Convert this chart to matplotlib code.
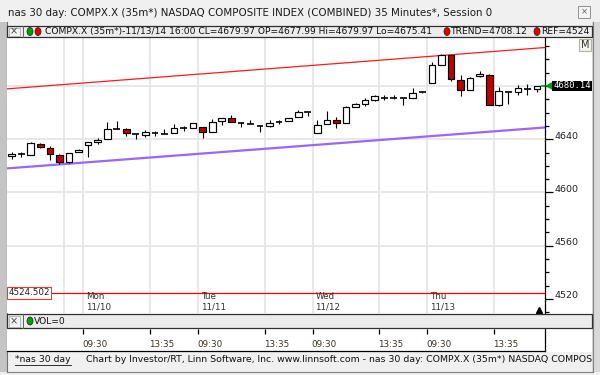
import numpy as np
import matplotlib
matplotlib.use("Agg")
import matplotlib.pyplot as plt
from matplotlib.patches import Rectangle, Ellipse, Polygon

# 35 minute bars, Fri afternoon .. Thu 11/13 close
opens = [4627.5, 4628.8, 4628.3, 4636.8, 4633.1, 4628.1, 4622.8, 4630.3, 4635.8, 4637.6,
         4640.2, 4647.7, 4647.9, 4643.8, 4643.2, 4644.7, 4644.2, 4645.1, 4648.2, 4648.5,
         4649.2, 4645.4, 4653.7, 4655.7, 4652.5, 4651.5, 4650.2, 4649.7, 4653.0, 4653.7,
         4656.8, 4660.5, 4645.1, 4651.5, 4654.7, 4652.2, 4664.3, 4666.8, 4669.8, 4670.8,
         4670.8, 4670.8, 4671.1, 4675.6, 4682.4, 4696.2, 4703.2, 4684.4, 4677.4, 4687.4,
         4688.7, 4666.0, 4675.6, 4675.3, 4677.9, 4677.99]
highs = [4630.1, 4630.3, 4637.6, 4637.0, 4634.6, 4628.9, 4629.8, 4632.5, 4638.3, 4641.1,
         4652.7, 4653.4, 4648.2, 4644.0, 4646.9, 4646.2, 4647.9, 4651.2, 4649.7, 4652.2,
         4649.5, 4655.2, 4656.3, 4658.5, 4652.7, 4654.5, 4650.4, 4654.2, 4654.7, 4656.2,
         4662.3, 4660.7, 4654.7, 4661.0, 4656.8, 4665.3, 4667.0, 4670.8, 4673.4, 4673.6,
         4673.6, 4671.0, 4678.6, 4675.8, 4698.0, 4704.3, 4703.5, 4688.7, 4687.0, 4691.2,
         4689.4, 4679.4, 4675.8, 4681.1, 4681.7, 4679.97]
lows = [4625.1, 4627.0, 4628.0, 4633.8, 4624.5, 4621.7, 4622.5, 4630.1, 4627.0, 4636.4,
        4640.0, 4647.5, 4642.6, 4640.2, 4641.9, 4642.6, 4644.0, 4645.0, 4646.6, 4648.2,
        4640.9, 4645.2, 4650.9, 4652.8, 4649.4, 4651.3, 4645.4, 4649.5, 4651.5, 4653.5,
        4656.4, 4657.2, 4645.0, 4651.3, 4648.5, 4652.0, 4664.0, 4664.8, 4668.5, 4669.8,
        4670.6, 4666.0, 4670.9, 4674.5, 4682.2, 4696.0, 4683.6, 4672.8, 4677.0, 4687.2,
        4665.8, 4664.8, 4666.6, 4673.6, 4673.6, 4675.41]
closes = [4629.1, 4628.8, 4637.1, 4634.1, 4628.8, 4623.0, 4629.6, 4632.3, 4637.6, 4639.8,
          4647.7, 4647.8, 4644.7, 4643.9, 4645.7, 4644.8, 4644.3, 4648.2, 4648.3, 4651.9,
          4645.7, 4653.0, 4656.0, 4653.0, 4652.6, 4651.6, 4650.3, 4652.2, 4653.1, 4656.0,
          4660.2, 4660.6, 4650.9, 4654.5, 4652.2, 4664.0, 4666.6, 4669.6, 4672.3, 4670.9,
          4670.9, 4670.9, 4675.1, 4675.7, 4695.5, 4703.5, 4685.4, 4677.4, 4686.4, 4688.9,
          4666.0, 4676.1, 4675.7, 4678.3, 4678.0, 4679.97]

trend_x = [-0.5, 55.85]
trend_hi = [4677.9, 4709.0]
trend_lo = [4618.1, 4648.9]
ref_level = 4524.502
last_price = 4680.14

grid_x = [5.5, 7.5, 14.5, 19.5, 26.5, 31.5, 38.5, 43.5, 50.5]
grid_y = [4560, 4600, 4640, 4680]
time_ticks = [7.5, 14.5, 19.5, 26.5, 31.5, 38.5, 43.5, 50.5]
time_labels = ["09:30", "13:35", "09:30", "13:35", "09:30", "13:35", "09:30", "13:35"]
day_ticks = [7.5, 19.5, 31.5, 43.5]
day_names = ["Mon", "Tue", "Wed", "Thu"]
day_dates = ["11/10", "11/11", "11/12", "11/13"]
price_labels = [4520, 4560, 4600, 4640]

W, H = 600, 375
plt.rcParams['font.family'] = ['DejaVu Sans']


def box(x0, y0, x1, y1):
    # pixel box (top-left origin) -> figure fraction rect
    return [x0 / W, 1 - y1 / H, (x1 - x0) / W, (y1 - y0) / H]


fig = plt.figure(figsize=(6, 3.75), dpi=100)
fig.patch.set_facecolor('#f0f0f0')

# background / window chrome
bg = fig.add_axes([0, 0, 1, 1])
bg.set_xlim(0, W)
bg.set_ylim(H, 0)
bg.axis('off')
bg.add_patch(Rectangle((0, 22), 7, 350, facecolor='#c4c4c4', edgecolor='none'))
bg.add_patch(Rectangle((592, 22), 8, 350, facecolor='#d8d8d8', edgecolor='none'))
bg.add_patch(Rectangle((7, 37), 585, 315, facecolor='white', edgecolor='none'))
bg.plot([6.5, 6.5], [22, 372], color='#707070', lw=0.8)
bg.plot([592.5, 592.5], [22, 372], color='#808080', lw=0.8)
bg.plot([6.5, 592.5], [371.5, 371.5], color='#808080', lw=0.8)

# main price panel
ax = fig.add_axes(box(7, 37, 545, 313))
ax.set_facecolor('white')
ax.set_xlim(-0.49, 55.84)
ax.set_ylim(4509.4, 4716.9)

for gx in grid_x:
    ax.axvline(gx, color='#e6e6e6', lw=1.3, zorder=0)
for gy in grid_y:
    ax.axhline(gy, color='#e6e6e6', lw=1.3, zorder=0)

ax.plot(trend_x, trend_hi, color='#ff1a1a', lw=0.9, zorder=1)
ax.plot(trend_x, trend_lo, color='#9966ff', lw=1.6, zorder=1)
ax.axhline(ref_level, color='#ff0000', lw=0.9, zorder=1)

o = np.array(opens)
hi = np.array(highs)
lo = np.array(lows)
c = np.array(closes)
idx = np.arange(len(c))
up = c >= o
ax.vlines(idx, lo, hi, color='black', lw=0.8, zorder=2)
body_lo = np.minimum(o, c)
body_h = np.abs(c - o)
solid = body_h >= 0.5
colors = np.where(up, 'white', '#c00000')
ax.bar(idx[solid], body_h[solid], bottom=body_lo[solid], width=0.7,
       color=colors[solid], edgecolor='black', linewidth=0.85, zorder=3)
ax.hlines((o[~solid] + c[~solid]) / 2, idx[~solid] - 0.35, idx[~solid] + 0.35,
          color='black', lw=1.2, zorder=3)

for s in ['left', 'top', 'bottom']:
    ax.spines[s].set_visible(False)
ax.spines['right'].set_linewidth(0.9)
ax.yaxis.tick_right()
ax.set_yticks(np.arange(4520, 4720, 40))
ax.set_yticks(np.arange(4510, 4720, 10), minor=True)
ax.tick_params(axis='y', which='major', length=6, width=0.9, labelright=False)
ax.tick_params(axis='y', which='minor', length=3, width=0.9)
ax.set_xticks([])

ytr = ax.get_yaxis_transform()
xtr = ax.get_xaxis_transform()
for v in price_labels:
    ax.text(1.017, v + 2.3, str(v), transform=ytr, fontsize=6.8, color='#222222',
            ha='left', va='center', clip_on=False)

for t, n, d in zip(day_ticks, day_names, day_dates):
    ax.text(t + 0.3, 0.058, n, transform=xtr, fontsize=6.3, color='#333333',
            ha='left', va='center')
    ax.text(t + 0.3, 0.021, d, transform=xtr, fontsize=6.3, color='#333333',
            ha='left', va='center')

ax.text(0.003, ref_level, '4524.502', transform=ytr, fontsize=6.3, color='#222222',
        ha='left', va='center', zorder=5,
        bbox=dict(boxstyle='square,pad=0.15', facecolor='white', edgecolor='#ff3030', lw=0.8))

ax.plot([55.2], [0.012], marker='^', ms=4, color='black', transform=xtr, clip_on=False)

# last price tag
ax.hlines(last_price, 55.4, 55.84, color='#00a000', lw=1.2)
ax.add_patch(Polygon([(1.0, last_price), (1.016, last_price + 3.5), (1.016, last_price - 3.5)],
                     closed=True, transform=ytr, facecolor='#00a000', edgecolor='none',
                     clip_on=False, zorder=6))
ax.add_patch(Rectangle((1.013, last_price - 3.5), 0.075, 7.0, transform=ytr,
                       facecolor='black', edgecolor='none', clip_on=False, zorder=6))
ax.text(1.0165, last_price, f'{last_price:.2f}', transform=ytr, fontsize=6.4,
        family='DejaVu Sans Mono', color='white', ha='left', va='center',
        clip_on=False, zorder=7)

# time axis panel
tax = fig.add_axes(box(7, 328, 545, 351))
tax.set_xlim(ax.get_xlim())
tax.set_ylim(0, 1)
tax.set_xticks([])
tax.set_yticks([])
for s in ['left', 'top']:
    tax.spines[s].set_visible(False)
tax.spines['right'].set_linewidth(0.9)
tax.spines['bottom'].set_linewidth(0.9)
tax.vlines(time_ticks, 0.74, 0.97, color='black', lw=0.9)
for t, lab in zip(time_ticks, time_labels):
    tax.text(t - 0.1, 0.28, lab, fontsize=6.3, color='#3a3020', ha='left', va='center')

# overlay chrome: title, legend bar, vol bar, footer
fg = fig.add_axes([0, 0, 1, 1])
fg.set_xlim(0, W)
fg.set_ylim(H, 0)
fg.axis('off')

fg.text(8, 13, 'nas 30 day: COMPX.X (35m*) NASDAQ COMPOSITE INDEX (COMBINED) 35 Minutes*, Session 0',
        fontsize=7.4, color='#1a1a1a', ha='left', va='center')
fg.add_patch(Rectangle((578, 6), 12, 12, facecolor='#f4f4f4', edgecolor='#909090', lw=0.7))
fg.text(584, 12.2, '×', fontsize=6, color='#606060', ha='center', va='center')


def panel_bar(y0, y1):
    fg.add_patch(Rectangle((7, y0), 585, y1 - y0, facecolor='#ececec', edgecolor='#303030', lw=0.9))
    fg.add_patch(Rectangle((8.5, y0 + 1.5), 11, y1 - y0 - 3, facecolor='#f4f4f4', edgecolor='#a0a0a0', lw=0.5))
    fg.text(14, (y0 + y1) / 2 + 0.3, '×', fontsize=7, color='#404040', ha='center', va='center')
    fg.plot([22.5, 22.5], [y0, y1], color='#606060', lw=0.7)


def dot(x, y, col):
    fg.add_patch(Ellipse((x, y), 6, 8, facecolor=col, edgecolor='#202020', lw=0.5))


panel_bar(26, 37)
dot(30, 31.5, '#00a000')
dot(38, 31.5, '#e00000')
fg.text(45, 31.8, 'COMPX.X (35m*)-11/13/14 16:00 CL=4679.97 OP=4677.99 Hi=4679.97 Lo=4675.41',
        fontsize=6.6, color='#111111', ha='left', va='center')
dot(447, 31.5, '#e00000')
fg.text(451, 31.8, 'TREND=4708.12', fontsize=6.6, color='#111111', ha='left', va='center')
dot(537, 31.5, '#e00000')
fg.text(541, 31.8, 'REF=4524', fontsize=6.6, color='#111111', ha='left', va='center')

fg.add_patch(Rectangle((579, 39), 12, 12, facecolor='#f4f4f0', edgecolor='#b8b0a0', lw=0.8))
fg.text(585, 45.3, 'M', fontsize=7, color='#303030', ha='center', va='center')

panel_bar(314, 328)
dot(30, 321, '#00a000')
fg.text(34, 321.3, 'VOL=0', fontsize=6.6, color='#111111', ha='left', va='center')

fg.text(15, 360, '*nas 30 day', fontsize=6.7, color='#111111', ha='left', va='center')
fg.plot([15, 71], [365, 365], color='#111111', lw=0.6)
fg.text(86, 360, 'Chart by Investor/RT, Linn Software, Inc. www.linnsoft.com - nas 30 day: '
        'COMPX.X (35m*) NASDAQ COMPOS', fontsize=6.75, color='#111111',
        ha='left', va='center')

fig.savefig('out.png', dpi=100, facecolor=fig.get_facecolor())
